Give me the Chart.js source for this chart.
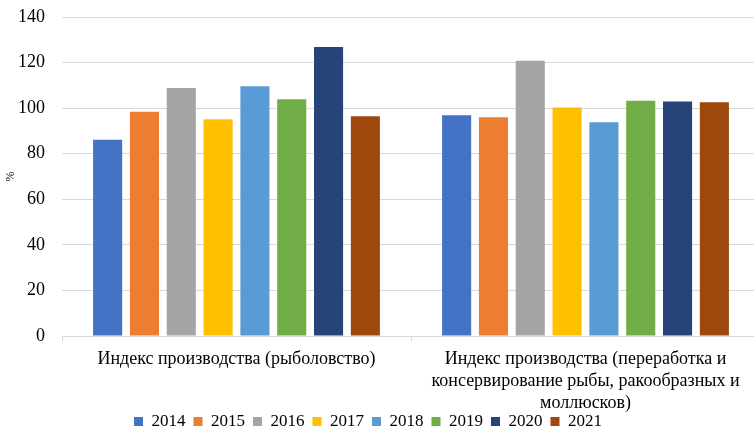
<!DOCTYPE html>
<html>
<head>
<meta charset="utf-8">
<script src="https://cdn.jsdelivr.net/npm/chart.js@4.4.1/dist/chart.umd.min.js"></script>
<style>
  html, body { margin: 0; padding: 0; background: #fff; overflow: hidden; }
  #outer { width: 754px; height: 430px; overflow: hidden; }
  #wrap { width: 760px; height: 430px; }
</style>
</head>
<body>
<div id="outer"><div id="wrap"><canvas id="chart"></canvas></div></div>
<script>
// категории и данные
var categories = [
    ['Индекс производства (рыболовство)'],
    ['Индекс производства (переработка и', 'консервирование рыбы, ракообразных и', 'моллюсков)']
];
var years = ['2014', '2015', '2016', '2017', '2018', '2019', '2020', '2021'];
var v2014 = [86.1, 96.9];
var v2015 = [98.4, 96.0];
var v2016 = [108.8, 120.8];
var v2017 = [95.1, 100.3];
var v2018 = [109.6, 93.8];
var v2019 = [103.9, 103.2];
var v2020 = [126.8, 102.9];
var v2021 = [96.4, 102.6];
var yTicks = [0, 20, 40, 60, 80, 100, 120, 140];

var colors = ['#4472c4', '#ed7d31', '#a5a5a5', '#ffc000', '#5b9bd5', '#70ad47', '#264478', '#9e480e'];
var values = [v2014, v2015, v2016, v2017, v2018, v2019, v2020, v2021];

var datasets = years.map(function(y, i) {
    return {
        label: y,
        data: values[i],
        backgroundColor: colors[i],
        borderWidth: 0,
        barPercentage: 0.79,
        categoryPercentage: 0.844
    };
});

// легенда ближе к подписям, подписи оси X не обрезаются
var layoutFix = {
    id: 'layoutFix',
    afterLayout: function(chart) {
        var lg = chart.legend;
        var h = lg.bottom - lg.top;
        lg.left -= 12;
        lg.right -= 12;
        lg.top = 405;
        lg.bottom = lg.top + h;
        chart.scales.x.bottom = chart.height;
    }
};

var ctx = document.getElementById('chart').getContext('2d');
new Chart(ctx, {
    type: 'bar',
    data: { labels: categories, datasets: datasets },
    plugins: [layoutFix],
    options: {
        responsive: true,
        maintainAspectRatio: false,
        animation: false,
        layout: { padding: { left: 0, right: 0, top: 0, bottom: 0 } },
        plugins: {
            tooltip: { enabled: false },
            legend: {
                position: 'bottom',
                labels: {
                    font: { family: 'Liberation Serif', size: 17 },
                    color: '#000',
                    boxWidth: 9,
                    boxHeight: 9,
                    padding: 8
                }
            }
        },
        scales: {
            x: {
                afterFit: function(scale) { scale.height = 59; },
                grid: { display: true, drawOnChartArea: false, drawTicks: true, tickLength: 5, color: '#d9d9d9' },
                border: { color: '#d9d9d9' },
                ticks: {
                    font: { family: 'Liberation Serif', size: 18, lineHeight: 1.222 },
                    color: '#000',
                    maxRotation: 0,
                    autoSkip: false,
                    padding: 7
                }
            },
            y: {
                min: 0,
                max: 140,
                afterFit: function(scale) {
                    scale.width = 62;
                    scale.paddingTop = 17;
                    scale.paddingBottom = 0;
                },
                afterBuildTicks: function(axis) {
                    axis.ticks = yTicks.map(function(v) { return { value: v }; });
                },
                grid: { color: '#d9d9d9', lineWidth: 1, drawTicks: true, tickLength: 8, tickColor: 'rgba(0,0,0,0)' },
                border: { display: false },
                title: {
                    display: true,
                    text: '%',
                    font: { family: 'Liberation Serif', size: 12 },
                    color: '#000',
                    padding: { top: 4, bottom: 0 }
                },
                ticks: {
                    font: { family: 'Liberation Serif', size: 18 },
                    color: '#000',
                    padding: 9
                }
            }
        }
    }
});
</script>
</body>
</html>
